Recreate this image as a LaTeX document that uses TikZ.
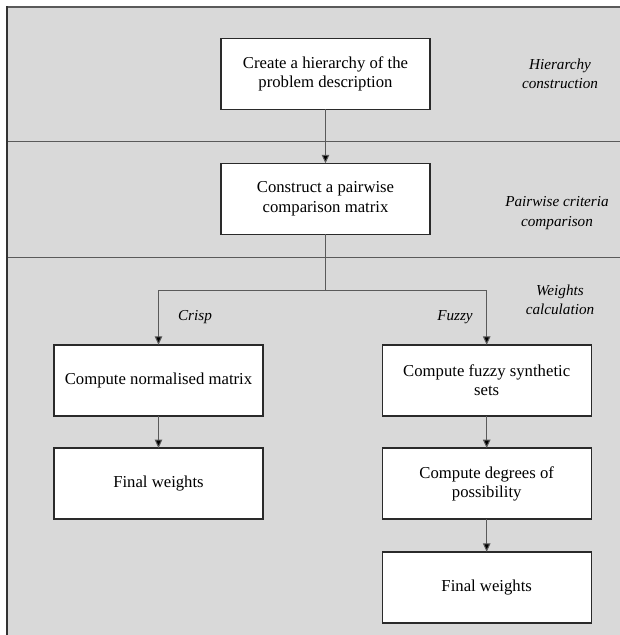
\documentclass[tikz,border=0pt]{standalone}
\usepackage{fontspec}
\setmainfont{Liberation Serif}
\usetikzlibrary{arrows.meta}
\definecolor{bandgray}{HTML}{D9D9D9}
\definecolor{linegray}{HTML}{5A5A5A}
\definecolor{boxline}{HTML}{2A2A2A}
\tikzset{
  stepbox/.style={draw=boxline, line width=1.4pt, fill=white, rectangle,
    minimum width=209pt, minimum height=71pt, inner sep=0pt, outer sep=0pt,
    align=center, font=\fontsize{16.7}{19.3}\selectfont},
  phase/.style={align=center, font=\fontsize{15.2}{19.3}\selectfont\itshape},
  branch/.style={font=\fontsize{15.2}{19.3}\selectfont\itshape},
  conn/.style={draw=linegray, line width=1pt},
  arr/.style={conn, -{Triangle[length=8.5pt,width=7.5pt,fill=black]}},
  sep/.style={draw=linegray, line width=1.2pt}
}
\begin{document}
\begin{tikzpicture}[x=1pt,y=-1pt]
\useasboundingbox (0,0) rectangle (620,635);
\fill[bandgray] (7,7) rectangle (620,635);
\draw[sep] (7,7) -- (620,7);
\draw[sep] (7,141.7) -- (620,141.7);
\draw[sep] (7,257.7) -- (620,257.7);
\draw[draw=black!80, line width=2pt] (7,6.4) -- (7,635);

\node[stepbox] (b1) at (325.5,73.7) {Create a hierarchy of the\\problem description};
\node[stepbox] (b2) at (325.5,198.8) {Construct a pairwise\\comparison matrix};
\node[stepbox] (l1) at (158.5,380.3) {Compute normalised matrix};
\node[stepbox] (r1) at (486.7,380.3) {Compute fuzzy synthetic\\sets};
\node[stepbox] (l2) at (158.5,483.6) {Final weights};
\node[stepbox] (r2) at (486.7,483.6) {Compute degrees of\\possibility};
\node[stepbox] (r3) at (486.7,587.3) {Final weights};

\node[phase] (p1) at (560,74) {Hierarchy\\construction};
\node[phase] (p2) at (557,213) {Pairwise criteria\\comparison};
\node[phase] (p3) at (560,300) {Weights\\calculation};
\node[branch] (crisp) at (195,317) {Crisp};
\node[branch] (fuzzy) at (455,317) {Fuzzy};

\coordinate (split) at (325.5,290.7);
\draw[arr] (b1) -- (b2);
\draw[conn] (b2) -- (split);
\draw[arr] (split) -| (l1.north);
\draw[arr] (split) -| (r1.north);
\draw[arr] (l1) -- (l2);
\draw[arr] (r1) -- (r2);
\draw[arr] (r2) -- (r3);
\end{tikzpicture}
\end{document}
